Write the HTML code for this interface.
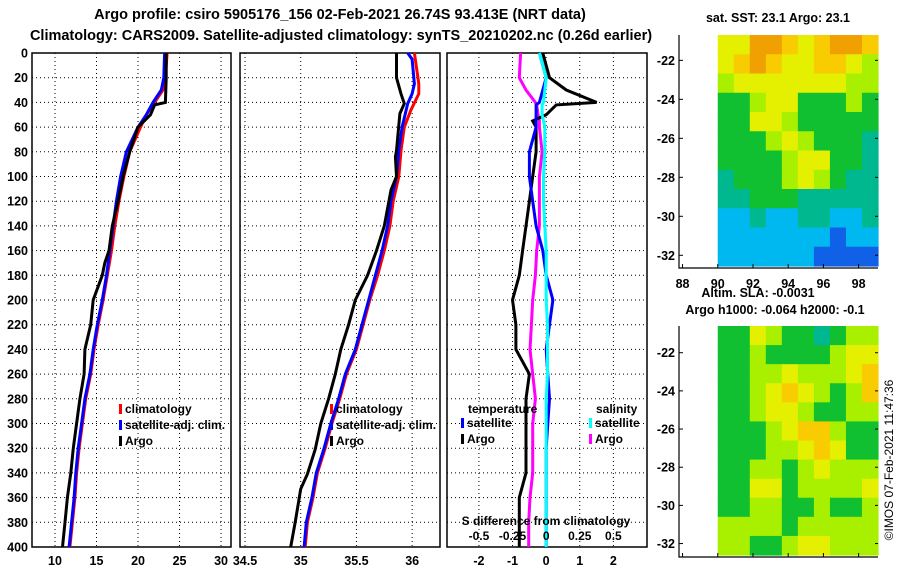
<!DOCTYPE html>
<html><head><meta charset="utf-8">
<style>
html,body{margin:0;padding:0;background:#fff;}
svg{display:block;font-family:"Liberation Sans",sans-serif;font-weight:bold;}
</style></head>
<body>
<svg id="chart" width="900" height="580" viewBox="0 0 900 580" xmlns="http://www.w3.org/2000/svg">
<text x="340" y="19" font-size="14.5" text-anchor="middle">Argo profile: csiro 5905176_156 02-Feb-2021 26.74S 93.413E (NRT data)</text>
<text x="341" y="40" font-size="14.5" text-anchor="middle">Climatology: CARS2009. Satellite-adjusted climatology: synTS_20210202.nc (0.26d earlier)</text>
<text x="778" y="22" font-size="12.5" text-anchor="middle">sat. SST: 23.1  Argo: 23.1</text>
<text x="758" y="297" font-size="12.5" text-anchor="middle">Altim. SLA: -0.0031</text>
<text x="775" y="314" font-size="12.5" text-anchor="middle">Argo h1000: -0.064 h2000: -0.1</text>
<text transform="translate(893,460) rotate(-90)" font-size="12" font-weight="normal" text-anchor="middle">©IMOS 07-Feb-2021 11:47:36</text>
<g id="layer"></g>
</svg>
<script>
// ---- data ----
const depthT = [0,20,30,40,50,60,80,100,120,140,160,180,200,220,240,260,280,300,320,340,360,380,400];
const tempClim = [23.5,23.3,23.0,22.0,21.0,20.3,19.0,18.3,17.7,17.2,16.8,16.3,15.8,15.2,14.7,14.3,13.7,13.3,12.9,12.6,12.4,12.1,11.8];
const tempSat  = [23.2,23.1,22.8,21.8,21.0,20.0,18.6,17.9,17.4,17.0,16.6,16.2,15.7,15.1,14.6,14.2,13.6,13.2,12.8,12.5,12.3,12.0,11.7];
const depthA = [0,20,40,42,50,60,80,100,120,140,160,170,180,200,220,240,260,280,300,320,340,360,380,400];
const tempArgo = [23.4,23.4,23.3,22.0,21.5,20.0,19.0,18.2,17.6,16.9,16.5,16.0,15.7,14.6,14.3,13.6,13.5,13.0,12.6,12.2,11.9,11.5,11.2,10.9];
const depthS = [0,25,33,46,60,79,100,120,140,160,180,200,220,240,260,280,300,320,340,360,380,400];
const salClim = [36.02,36.06,36.06,35.99,35.93,35.9,35.88,35.83,35.8,35.75,35.69,35.62,35.56,35.5,35.41,35.35,35.28,35.22,35.15,35.11,35.06,35.04];
const depthSS = [0,5,25,33,41,60,79,100,120,140,160,180,200,220,240,260,280,300,320,340,360,380,400];
const salSat  = [35.96,36.0,36.02,36.0,35.96,35.91,35.88,35.86,35.81,35.78,35.73,35.67,35.61,35.55,35.49,35.4,35.34,35.27,35.21,35.14,35.1,35.05,35.03];
const depthSA = [0,5,20,33,41,49,79,84,100,111,140,160,180,200,220,240,260,280,300,321,341,353,380,400];
const salArgo = [35.86,35.86,35.86,35.9,35.93,35.89,35.86,35.85,35.86,35.81,35.75,35.68,35.6,35.49,35.43,35.36,35.31,35.25,35.18,35.13,35.06,35.0,34.95,34.91];
const depthD = [0,20,30,40,42,50,55,60,80,100,120,140,160,180,200,220,240,260,280,300,320,340,360,380,400];
const dTArgo = [-0.1,0.1,0.6,1.5,0.3,0.0,-0.4,-0.3,-0.3,-0.4,-0.5,-0.6,-0.7,-0.8,-1.0,-0.9,-0.9,-0.5,-0.6,-0.6,-0.6,-0.6,-0.8,-0.8,-0.8];
const dTSat  = [-0.2,0.0,-0.1,-0.2,-0.3,-0.3,-0.3,-0.3,-0.5,-0.5,-0.4,-0.3,-0.1,0.0,0.2,0.1,0.0,0.05,0.1,0.05,0.0,0.0,0.0,0.0,0.0];
const dSSat  = [-0.05,0.0,-0.01,-0.02,-0.03,-0.03,-0.02,-0.01,-0.01,-0.02,-0.02,-0.01,0.0,0.0,0.0,0.01,0.01,0.01,0.0,0.0,0.0,0.0,0.0,0.0,0.0];
const dSArgo = [-0.19,-0.2,-0.15,-0.08,-0.07,-0.06,-0.05,-0.05,-0.03,-0.05,-0.05,-0.05,-0.07,-0.08,-0.1,-0.11,-0.12,-0.1,-0.08,-0.1,-0.1,-0.1,-0.12,-0.13,-0.13];
const depthTicks = [0,20,40,60,80,100,120,140,160,180,200,220,240,260,280,300,320,340,360,380,400];
const tempTicks = [10,15,20,25,30];
const salTicks = [34.5,35,35.5,36];
const dTTicks = [-2,-1,0,1,2];
const dSTickLabels = ["-0.5","-0.25","0","0.25","0.5"];
const dSTicks = [-0.5,-0.25,0,0.25,0.5];
const sstGrid = [
[3,3,1,1,2,3,2,1,1,2],[3,2,1,2,3,3,2,2,3,4],[4,3,3,3,3,3,3,3,4,4],[5,5,4,3,3,5,5,5,4,5],
[5,5,3,3,4,5,5,5,5,5],[5,5,5,4,3,4,5,5,5,6],[5,5,5,5,4,3,3,5,5,6],[6,5,5,5,4,3,4,5,6,6],
[6,6,5,5,5,6,6,6,6,6],[7,7,6,7,7,6,6,7,7,6],[7,7,7,7,7,7,7,8,7,7],[7,7,7,7,7,7,8,8,8,8]];
const slaGrid = [
[5,5,3,4,5,5,6,5,4,4],[5,5,4,5,5,5,5,4,3,3],[5,5,4,4,3,4,4,4,3,2],[5,5,4,3,2,3,4,5,4,2],
[5,5,4,3,3,4,5,5,4,4],[5,5,5,4,3,2,2,4,5,5],[5,5,5,4,4,3,2,3,5,5],[5,5,4,4,5,4,3,4,4,4],
[5,5,3,3,5,4,4,4,4,3],[5,5,4,4,5,5,4,5,5,4],[4,4,4,4,5,4,4,4,4,4],[4,4,5,5,4,3,3,4,4,4]];
const latTicks = [-22,-24,-26,-28,-30,-32];
const lonTicks = [88,90,92,94,96,98];

const palette = ['#e87800','#f0a000','#f8cc00','#e4f000','#a8f000','#10c030','#00b890','#00b8f0','#1060e8'];
const NS='http://www.w3.org/2000/svg';
const layer=document.getElementById('layer');
function mk(tag,attrs,parent){const e=document.createElementNS(NS,tag);for(const k in attrs)e.setAttribute(k,attrs[k]);(parent||layer).appendChild(e);return e;}
function txt(x,y,s,size,anchor,parent){const t=mk('text',{x:x,y:y,'font-size':size,'text-anchor':anchor},parent);t.textContent=s;return t;}

const Y0=53,Y1=547;
const yD=d=>Y0+(d/400)*(Y1-Y0);

function panel(name,x0,x1,xmin,xmax,ticks,labels){
  const g=mk('g',{});
  
  
  const xs=v=>x0+(v-xmin)/(xmax-xmin)*(x1-x0);
  depthTicks.forEach(d=>{const l=mk('line',{x1:x0,x2:x1,y1:yD(d),y2:yD(d),stroke:'#000','stroke-width':1,'stroke-dasharray':'1,3'},g);
    
    });
  ticks.forEach((v,i)=>{const l=mk('line',{x1:xs(v),x2:xs(v),y1:Y0,y2:Y1,stroke:'#000','stroke-width':1,'stroke-dasharray':'1,3'},g);
    
    
    const t=txt(xs(v),565,labels?labels[i]:String(v),12.5,'middle',g);
    
    });
  const f=mk('rect',{x:x0,y:Y0,width:x1-x0,height:Y1-Y0,fill:'none',stroke:'#000','stroke-width':1.5},g);
  
  
  return {g,xs};
}
function line(p,depths,vals,color,name,xsFn){
  const xs=xsFn||p.xs;
  const pts=depths.map((d,i)=>xs(vals[i]).toFixed(1)+','+yD(d).toFixed(1)).join(' ');
  const l=mk('polyline',{points:pts,fill:'none',stroke:color,'stroke-width':3,'stroke-linejoin':'miter'},p.g);
  
  
}
function legend(g,x,y,color,label,name){
  const r=mk('rect',{x:x,y:y-9,width:3,height:10,fill:color},g);
  
  
  const t=txt(x+6,y,label,12,'start',g);
  
  
}

// panel 1 temperature
const p1=panel('temperature-panel',32,231,7.23,31.2,tempTicks);
depthTicks.forEach(d=>{const t=txt(28,yD(d)+4.5,String(d),12.5,'end',p1.g);
  
  });
line(p1,depthT,tempClim,'#ff0000','temp-climatology-line');
line(p1,depthT,tempSat,'#0000ff','temp-satellite-line');
line(p1,depthA,tempArgo,'#000000','temp-argo-line');
legend(p1.g,119,413,'#f00','climatology','legend-climatology');
legend(p1.g,119,429,'#00f','satellite-adj. clim.','legend-satellite');
legend(p1.g,119,445,'#000','Argo','legend-argo');

// panel 2 salinity
const p2=panel('salinity-panel',240,440,34.455,36.25,salTicks);
line(p2,depthS,salClim,'#ff0000','sal-climatology-line');
line(p2,depthSS,salSat,'#0000ff','sal-satellite-line');
line(p2,depthSA,salArgo,'#000000','sal-argo-line');
legend(p2.g,330,413,'#f00','climatology','legend2-climatology');
legend(p2.g,330,429,'#00f','satellite-adj. clim.','legend2-satellite');
legend(p2.g,330,445,'#000','Argo','legend2-argo');

// panel 3 differences
const p3=panel('difference-panel',447,647,-2.95,3.0,dTTicks);
const xsS=v=>p3.xs(v*4);
line(p3,depthD,dSArgo,'#ff00ff','sal-diff-argo-line',xsS);
line(p3,depthD,dTArgo,'#000000','temp-diff-argo-line');
line(p3,depthD,dTSat,'#0000ff','temp-diff-satellite-line');
line(p3,depthD,dSSat,'#00ffff','sal-diff-satellite-line',xsS);
[['temperature',468,413],['salinity',596,413]].forEach(a=>{const t=txt(a[1],a[2],a[0],12,'start',p3.g);
  
  });
legend(p3.g,461,427,'#00f','satellite','legend3-temp-satellite');
legend(p3.g,461,443,'#000','Argo','legend3-temp-argo');
legend(p3.g,589,427,'#0ff','satellite','legend3-sal-satellite');
legend(p3.g,589,443,'#f0f','Argo','legend3-sal-argo');
const st=txt(546,525,'S difference from climatology',12,'middle',p3.g);


dSTicks.forEach((v,i)=>{const t=txt(xsS(v),540,dSTickLabels[i],12,'middle',p3.g);
  
  });

// maps
function map(name,grid,top,bottom,latTop,latBot){
  const g=mk('g',{});
  
  
  const lonL=87.8,lonR=99.1,fx0=679,fx1=878;
  const xl=v=>fx0+(v-lonL)/(lonR-lonL)*(fx1-fx0);
  const yl=v=>top+(latTop-v)/(latTop-latBot)*(bottom-top);
  const rows=grid.length,cols=grid[0].length;
  const ix0=xl(90),ix1=fx1;
  const cw=(ix1-ix0)/cols,ch=(bottom-top)/rows;
  grid.forEach((row,r)=>row.forEach((v,c)=>{
    const cell=mk('rect',{x:(ix0+c*cw).toFixed(2),y:(top+r*ch).toFixed(2),width:(cw+0.6).toFixed(2),height:(ch+0.6).toFixed(2),fill:palette[v]},g);
    
    
  }));
  const ax=mk('path',{d:`M${fx0},${top} V${bottom+2} H${fx1}`,fill:'none',stroke:'#000','stroke-width':1.2},g);
  
  
  latTicks.forEach(v=>{
    mk('line',{x1:fx0,x2:fx0+4,y1:yl(v),y2:yl(v),stroke:'#000'},g);
    mk('line',{x1:fx1,x2:fx1-3,y1:yl(v),y2:yl(v),stroke:'#000'},g);
    const t=txt(fx0-4,yl(v)+4.5,String(v),12.5,'end',g);
    
    });
  lonTicks.forEach(v=>{mk('line',{x1:xl(v),x2:xl(v),y1:bottom+2,y2:bottom-2,stroke:'#000'},g);});
  return {g,xl};
}
const m1=map('sst-map',sstGrid,35,266,-20.7,-32.55);
lonTicks.forEach(v=>{const t=txt(m1.xl(v),288,String(v),12.5,'middle',m1.g);
  
  });
map('sla-map',slaGrid,326,555,-20.6,-32.6);
</script>
</body></html>
